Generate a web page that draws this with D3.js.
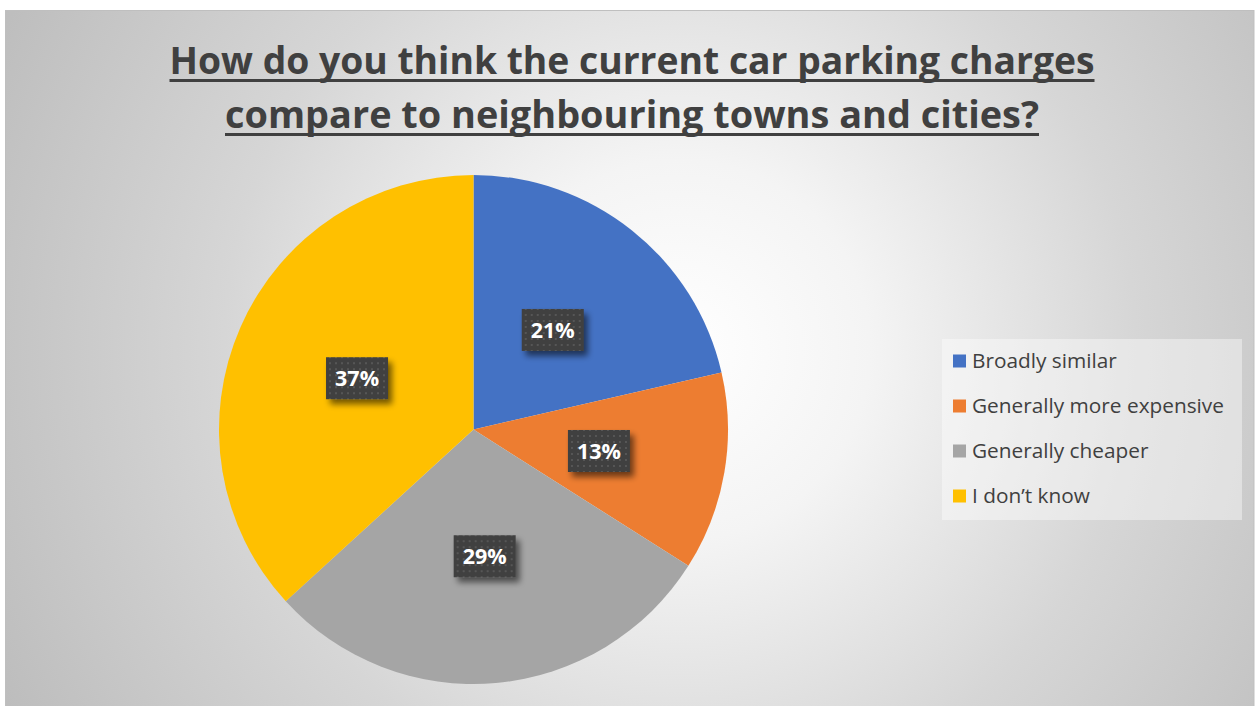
<!DOCTYPE html>
<html><head><meta charset="utf-8">
<script src="https://cdn.jsdelivr.net/npm/d3@7"></script>
<style>html,body{margin:0;padding:0;background:#fff;overflow:hidden}</style>
</head><body>
<svg id="chart" width="1255" height="706"></svg>
<script>
const titleLines = ["How do you think the current car parking charges", "compare to neighbouring towns and cities?"];
const categories = ["Broadly similar", "Generally more expensive", "Generally cheaper", "I don\u2019t know"];
const values = [21.4, 12.6, 29.2, 36.8];
const labels = ["21%", "13%", "29%", "37%"];
const colors = ["#4472c4", "#ed7d31", "#a5a5a5", "#ffc000"];

const svg = d3.select("#chart");
const W = 1255, H = 706;
const defs = svg.append("defs");

const grad = defs.append("radialGradient").attr("id", "bg")
  .attr("gradientUnits", "userSpaceOnUse")
  .attr("cx", 680).attr("cy", 350).attr("r", 760);
grad.append("stop").attr("offset", "0").attr("stop-color", "#ffffff");
grad.append("stop").attr("offset", "0.25").attr("stop-color", "#f4f4f4");
grad.append("stop").attr("offset", "0.6").attr("stop-color", "#d6d6d6");
grad.append("stop").attr("offset", "1").attr("stop-color", "#bdbdbd");

const pat = defs.append("pattern").attr("id", "dots")
  .attr("patternUnits", "userSpaceOnUse").attr("width", 6).attr("height", 6);
pat.append("rect").attr("width", 6).attr("height", 6).attr("fill", "#3f3f3f");
pat.append("rect").attr("x", 2).attr("y", 2).attr("width", 2).attr("height", 2).attr("fill", "#575757");

const filt = defs.append("filter").attr("id", "shadow").attr("x", "-30%").attr("y", "-30%").attr("width", "170%").attr("height", "180%");
filt.append("feGaussianBlur").attr("in", "SourceAlpha").attr("stdDeviation", 3).attr("result", "b");
filt.append("feOffset").attr("in", "b").attr("dx", 4).attr("dy", 5).attr("result", "o");
filt.append("feComponentTransfer").attr("in", "o").attr("result", "o2")
  .append("feFuncA").attr("type", "linear").attr("slope", 0.55);
const fm = filt.append("feMerge");
fm.append("feMergeNode").attr("in", "o2");
fm.append("feMergeNode").attr("in", "SourceGraphic");

// background
svg.append("rect").attr("x", 5.5).attr("y", 10.5).attr("width", W - 6.5).attr("height", H)
  .attr("fill", "url(#bg)").attr("stroke", "#bfbfbf").attr("stroke-width", 1);

// title
const title = svg.append("g");
const tY = [74, 128];
const tW = [925, 814];
titleLines.forEach((t, i) => {
  const tx = title.append("text").attr("x", 632).attr("y", tY[i])
    .attr("text-anchor", "middle")
    .attr("font-family", "'Open Sans', sans-serif").attr("font-weight", "bold")
    .attr("font-size", 38).attr("fill", "#404040")
    .attr("textLength", tW[i]).attr("lengthAdjust", "spacingAndGlyphs").text(t);
  title.append("rect").attr("x", 632 - tW[i] / 2).attr("y", tY[i] + 5).attr("width", tW[i]).attr("height", 3)
    .attr("fill", "#404040");
});

// pie
const cx = 473.5, cy = 429.5, R = 254.5;
const pie = d3.pie().sort(null).value(d => d)(values);
const arc = d3.arc().innerRadius(0).outerRadius(R);
const labelArc = d3.arc().innerRadius(R * 0.5).outerRadius(R * 0.5);
const g = svg.append("g").attr("transform", `translate(${cx},${cy})`);
g.selectAll("path.slice").data(pie).join("path").attr("class", "slice")
  .attr("d", arc).attr("fill", (d, i) => colors[i]);

const lab = g.selectAll("g.lab").data(pie).join("g").attr("class", "lab")
  .attr("transform", d => { const c = labelArc.centroid(d); return `translate(${c[0]},${c[1]})`; });
lab.append("rect").attr("x", -31).attr("y", -21).attr("width", 62).attr("height", 42)
  .attr("fill", "url(#dots)").attr("filter", "url(#shadow)");
lab.append("text").attr("text-anchor", "middle").attr("dy", "0.36em")
  .attr("font-family", "'Open Sans', sans-serif").attr("font-weight", "bold")
  .attr("font-size", 21.5).attr("fill", "#ffffff").text((d, i) => labels[i]);

// legend
const lg = svg.append("g");
lg.append("rect").attr("x", 942).attr("y", 339).attr("width", 300).attr("height", 181)
  .attr("fill", "#ffffff").attr("fill-opacity", 0.4);
const rowY = d3.scalePoint().domain(categories).range([361, 496]);
categories.forEach((c, i) => {
  lg.append("rect").attr("x", 953).attr("y", rowY(c) - 6.5).attr("width", 13).attr("height", 13).attr("fill", colors[i]);
  lg.append("text").attr("x", 972).attr("y", rowY(c)).attr("dy", "0.35em")
    .attr("font-family", "'Open Sans', sans-serif").attr("font-size", 20.8)
    .attr("fill", "#404040").text(c);
});
</script>
</body></html>
